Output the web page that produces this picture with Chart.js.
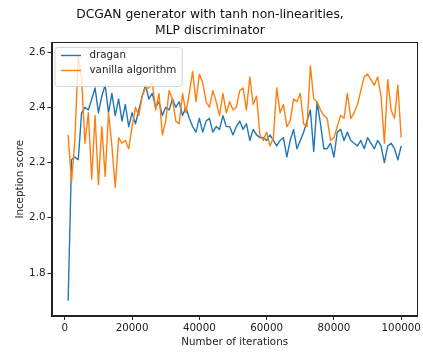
<!DOCTYPE html>
<html><head><meta charset="utf-8">
<script src="https://cdn.jsdelivr.net/npm/chart.js@4.4.0/dist/chart.umd.min.js"></script>
<style>html,body{margin:0;padding:0;background:#fff}#wrap{width:423px;height:352px}</style>
</head><body><div id="wrap"><canvas id="c" width="423" height="352"></canvas></div>
<script>
const iterations = [1000,2000,3000,4000,5000,6000,7000,8000,9000,10000,
 11000,12000,13000,14000,15000,16000,17000,18000,19000,20000,
 21000,22000,23000,24000,25000,26000,27000,28000,29000,30000,
 31000,32000,33000,34000,35000,36000,37000,38000,39000,40000,
 41000,42000,43000,44000,45000,46000,47000,48000,49000,50000,
 51000,52000,53000,54000,55000,56000,57000,58000,59000,60000,
 61000,62000,63000,64000,65000,66000,67000,68000,69000,70000,
 71000,72000,73000,74000,75000,76000,77000,78000,79000,80000,
 81000,82000,83000,84000,85000,86000,87000,88000,89000,90000,
 91000,92000,93000,94000,95000,96000,97000,98000,99000,100000];
const dragan = [1.70,2.21,2.22,2.21,2.38,2.40,2.39,2.43,2.47,2.38,
 2.44,2.48,2.38,2.45,2.37,2.43,2.35,2.41,2.33,2.38,
 2.34,2.39,2.44,2.48,2.43,2.45,2.40,2.42,2.37,2.40,
 2.39,2.43,2.40,2.42,2.37,2.40,2.36,2.33,2.31,2.36,
 2.31,2.35,2.36,2.31,2.33,2.32,2.37,2.33,2.33,2.30,
 2.33,2.35,2.32,2.34,2.28,2.32,2.30,2.29,2.29,2.28,
 2.30,2.28,2.26,2.28,2.29,2.22,2.28,2.32,2.25,2.28,
 2.31,2.35,2.39,2.24,2.42,2.34,2.25,2.25,2.27,2.22,
 2.31,2.32,2.28,2.31,2.28,2.27,2.26,2.28,2.25,2.29,
 2.27,2.25,2.28,2.26,2.20,2.26,2.27,2.25,2.21,2.26];
const vanilla = [2.30,2.13,2.28,2.59,2.50,2.27,2.38,2.14,2.37,2.12,
 2.33,2.15,2.38,2.26,2.11,2.29,2.27,2.28,2.25,2.33,
 2.40,2.37,2.44,2.47,2.47,2.49,2.39,2.45,2.30,2.35,
 2.46,2.43,2.35,2.34,2.45,2.38,2.45,2.53,2.42,2.52,
 2.49,2.42,2.40,2.46,2.42,2.37,2.45,2.38,2.42,2.39,
 2.40,2.46,2.47,2.39,2.51,2.41,2.44,2.30,2.28,2.31,
 2.26,2.29,2.47,2.38,2.41,2.33,2.35,2.43,2.42,2.45,
 2.34,2.33,2.55,2.43,2.42,2.39,2.37,2.36,2.28,2.29,
 2.33,2.37,2.36,2.45,2.36,2.38,2.41,2.46,2.51,2.52,
 2.50,2.48,2.51,2.44,2.27,2.50,2.39,2.36,2.48,2.29];
const seriesNames = ['dragan','vanilla algorithm'];
const seriesColors = ['#1f77b4','#ff7f0e'];
const xTicks = [0,20000,40000,60000,80000,100000];
const yTicks = [1.8,2.0,2.2,2.4,2.6];
const titleLines = ['DCGAN generator with tanh non-linearities,','MLP discriminator'];
const xTitle = 'Number of iterations';
const yTitle = 'Inception score';

Chart.defaults.font.family = '"DejaVu Sans", sans-serif';
Chart.defaults.color = '#222';

const framePlugin = {
  id: 'frameLegend',
  afterDatasetsDraw(chart) {
    const {ctx, chartArea: a} = chart;
    ctx.save();
    ctx.strokeStyle = '#222';
    ctx.lineWidth = 1;
    ctx.strokeRect(Math.round(a.left) + 0.5, Math.round(a.top) + 0.5,
      Math.round(a.right - a.left) - 1, Math.round(a.bottom - a.top) - 1);
    // legend
    ctx.font = '10.3px "DejaVu Sans"';
    const ds = chart.data.datasets;
    const maxW = Math.max(...ds.map(d => ctx.measureText(d.label).width));
    const bx = a.left + 3.5, by = a.top + 5;
    const handleX0 = bx + 6, handleLen = 20, textX = handleX0 + handleLen + 8.5;
    const bw = textX - bx + maxW + 6;
    const rowH = 15, bh = 8 + rowH * ds.length + 1;
    ctx.beginPath();
    ctx.roundRect(bx, by, bw, bh, 3);
    ctx.fillStyle = 'rgba(255,255,255,0.8)';
    ctx.fill();
    ctx.strokeStyle = 'rgba(204,204,204,0.8)';
    ctx.lineWidth = 1;
    ctx.stroke();
    ds.forEach((d, i) => {
      const cy = by + 8 + i * rowH;
      ctx.beginPath();
      ctx.moveTo(handleX0, cy);
      ctx.lineTo(handleX0 + handleLen, cy);
      ctx.strokeStyle = d.borderColor;
      ctx.lineWidth = 1.4;
      ctx.stroke();
      ctx.fillStyle = '#222';
      ctx.textBaseline = 'middle';
      ctx.textAlign = 'left';
      ctx.fillText(d.label, textX, cy);
    });
    ctx.restore();
  }
};

const datasets = [dragan, vanilla].map((vals, s) => ({
  label: seriesNames[s],
  data: iterations.map((x, i) => ({x: x, y: vals[i]})),
  borderColor: seriesColors[s],
  backgroundColor: seriesColors[s],
  borderWidth: 1.4,
  pointRadius: 0,
  tension: 0,
  borderJoinStyle: 'round',
  order: 2 - s
}));

new Chart(document.getElementById('c'), {
  type: 'line',
  data: {datasets},
  options: {
    responsive: false,
    animation: false,
    layout: {padding: {left: 0, right: 3, top: 0, bottom: 0}},
    plugins: {
      legend: {display: false},
      tooltip: {enabled: false},
      title: {
        display: true,
        text: titleLines,
        color: '#111',
        font: {size: 12.3, weight: 'normal', lineHeight: 1.3},
        padding: {top: 7, bottom: 3.5}
      }
    },
    scales: {
      x: {
        type: 'linear',
        min: -3950, max: 104950,
        afterBuildTicks: ax => { ax.ticks = xTicks.map(v => ({value: v})); },
        afterFit: ax => { ax.height = 36; },
        grid: {display: true, drawOnChartArea: false, drawTicks: true, tickLength: 4, color: '#222'},
        border: {display: true, color: '#222'},
        ticks: {font: {size: 10.3}, padding: 2, maxRotation: 0, autoSkip: false,
          callback: v => String(v)},
        title: {display: true, text: xTitle, font: {size: 10.3}, padding: {top: 0, bottom: 3.8}}
      },
      y: {
        type: 'linear',
        min: 1.6445, max: 2.6345,
        afterBuildTicks: ax => { ax.ticks = yTicks.map(v => ({value: v})); },
        afterFit: ax => { ax.width = 51.5; },
        grid: {display: true, drawOnChartArea: false, drawTicks: true, tickLength: 4, color: '#222'},
        border: {display: true, color: '#222'},
        ticks: {font: {size: 10.3}, padding: 2, callback: v => v.toFixed(1)},
        title: {display: true, text: yTitle, font: {size: 10.3}, padding: {top: 13.8, bottom: 0}}
      }
    }
  },
  plugins: [framePlugin]
});
</script>
</body></html>
